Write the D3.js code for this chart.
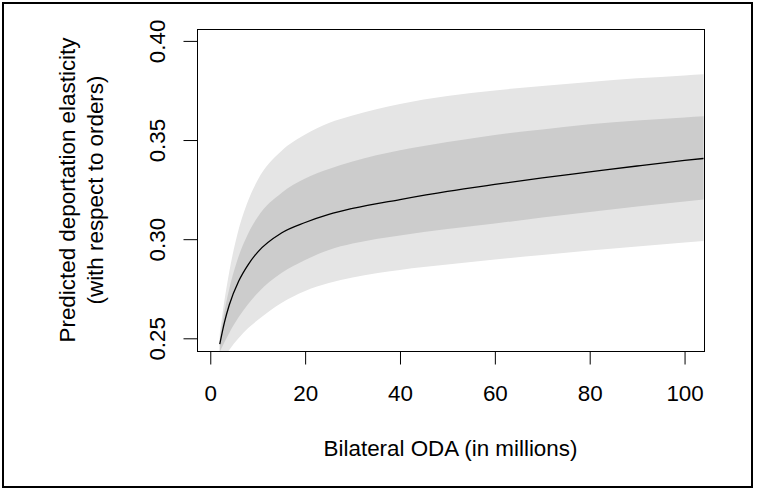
<!DOCTYPE html>
<head>
    <meta charset="utf-8">
    <title>Deportation elasticity</title>
    <script type="text/javascript" src="https://d3js.org/d3.v7.min.js"></script>
    <style>
        body { margin: 0; background: #fff; }
        text { font-family: "Liberation Sans", Arial, sans-serif; fill: #000; }
    </style>
</head>
<body>
<div id="container"></div>
<script>
    //-----------------------------DATA------------------------------//
    const oda = [2, 3, 4, 6, 8, 10, 15, 20, 25, 30, 40, 50, 60, 70, 80, 90, 100, 104];
    const fit = [0.2471, 0.2582, 0.2668, 0.2789, 0.2872, 0.2935, 0.3031, 0.3084, 0.3125, 0.3155,
                 0.3200, 0.3241, 0.3276, 0.3309, 0.3339, 0.3369, 0.3397, 0.3407];
    const innerLo = [0.2431, 0.2481, 0.2527, 0.2607, 0.2673, 0.2729, 0.2829, 0.2895, 0.2946, 0.2978,
                     0.3019, 0.3051, 0.3079, 0.3109, 0.3137, 0.3165, 0.3190, 0.3200];
    const innerHi = [0.2496, 0.2638, 0.2749, 0.2915, 0.3029, 0.3112, 0.3233, 0.3306, 0.3354, 0.3392,
                     0.3448, 0.3490, 0.3526, 0.3553, 0.3579, 0.3599, 0.3614, 0.3620];
    const outerLo = [0.2350, 0.2401, 0.2441, 0.2502, 0.2552, 0.2592, 0.2678, 0.2739, 0.2779, 0.2807,
                     0.2845, 0.2872, 0.2898, 0.2920, 0.2943, 0.2963, 0.2983, 0.2991];
    const outerHi = [0.2522, 0.2693, 0.2835, 0.3051, 0.3195, 0.3299, 0.3445, 0.3528, 0.3586, 0.3624,
                     0.3682, 0.3722, 0.3750, 0.3773, 0.3793, 0.3811, 0.3826, 0.3832];
    const xTicks = [0, 20, 40, 60, 80, 100];
    const yTicks = [0.25, 0.30, 0.35, 0.40];

    //-----------------------------SVG-------------------------------//
    const width = 760;
    const height = 489;
    const plot = {left: 197, right: 704, top: 29, bottom: 351};

    const svg = d3.select("div#container").append("svg")
        .attr("width", width)
        .attr("height", height);

    // figure frame
    svg.append("rect")
        .attr("x", 3).attr("y", 3)
        .attr("width", 749).attr("height", 484)
        .attr("fill", "none")
        .attr("stroke", "#000")
        .attr("stroke-width", 2);

    //----------------------------SCALES-----------------------------//
    const xScale = d3.scaleLinear().domain([-2.8, 104.1]).range([plot.left, plot.right]);
    const yScale = d3.scaleLinear().domain([0.2436, 0.406]).range([plot.bottom, plot.top]);

    const rows = oda.map(function(x, i) {
        return {x: x, fit: fit[i], ilo: innerLo[i], ihi: innerHi[i], olo: outerLo[i], ohi: outerHi[i]};
    });

    svg.append("clipPath").attr("id", "clip")
        .append("rect")
        .attr("x", plot.left).attr("y", plot.top)
        .attr("width", plot.right - plot.left + 1)
        .attr("height", plot.bottom - plot.top);

    const g = svg.append("g").attr("clip-path", "url(#clip)");

    const curve = d3.curveMonotoneX;

    const outerArea = d3.area()
        .curve(curve)
        .x(function(d) { return xScale(d.x); })
        .y0(function(d) { return yScale(d.olo); })
        .y1(function(d) { return yScale(d.ohi); });

    const innerArea = d3.area()
        .curve(curve)
        .x(function(d) { return xScale(d.x); })
        .y0(function(d) { return yScale(d.ilo); })
        .y1(function(d) { return yScale(d.ihi); });

    const line = d3.line()
        .curve(curve)
        .x(function(d) { return xScale(d.x); })
        .y(function(d) { return yScale(d.fit); });

    g.append("path").attr("d", outerArea(rows)).attr("fill", "#e5e5e5");
    g.append("path").attr("d", innerArea(rows)).attr("fill", "#cccccc");
    g.append("path").attr("d", line(rows))
        .attr("fill", "none")
        .attr("stroke", "#000")
        .attr("stroke-width", 1.3);

    // plot box
    svg.append("rect")
        .attr("x", plot.left + 0.5).attr("y", plot.top + 0.5)
        .attr("width", plot.right - plot.left).attr("height", plot.bottom - plot.top)
        .attr("fill", "none")
        .attr("stroke", "#000")
        .attr("stroke-width", 1);

    //-----------------------------AXES------------------------------//
    const xaxis = d3.axisBottom(xScale)
        .tickValues(xTicks)
        .tickSize(13)
        .tickPadding(21)
        .tickFormat(d3.format("d"));

    const xg = svg.append("g")
        .attr("transform", "translate(0," + (plot.bottom + 0.5) + ")")
        .call(xaxis);
    xg.select(".domain").attr("d", "M" + xScale(0) + ",0H" + xScale(100));
    xg.selectAll("text").style("font-size", "22.4px").attr("fill", "#000");

    const yaxis = d3.axisLeft(yScale)
        .tickValues(yTicks)
        .tickSize(14)
        .tickFormat(d3.format(".2f"));

    const yg = svg.append("g")
        .attr("transform", "translate(" + (plot.left + 0.5) + ",0)")
        .call(yaxis);
    yg.select(".domain").attr("d", "M0," + yScale(0.25) + "V" + yScale(0.40));
    yg.selectAll(".tick text")
        .attr("x", null).attr("dy", null)
        .attr("transform", "translate(-33,0) rotate(-90)")
        .attr("text-anchor", "middle")
        .attr("fill", "#000")
        .style("font-size", "22.4px");

    svg.selectAll(".domain, .tick line").attr("stroke", "#000");
    svg.selectAll(".tick text").attr("font-family", null);

    //-----------------------------LABELS----------------------------//
    svg.append("text")
        .attr("x", (plot.left + plot.right) / 2)
        .attr("y", 456)
        .attr("text-anchor", "middle")
        .style("font-size", "22.4px")
        .text("Bilateral ODA (in millions)");

    const ylab = svg.append("text")
        .attr("transform", "translate(0," + ((plot.top + plot.bottom) / 2) + ") rotate(-90)")
        .attr("text-anchor", "middle")
        .style("font-size", "22.4px");
    ylab.append("tspan").attr("x", 0).attr("y", 75).text("Predicted deportation elasticity");
    ylab.append("tspan").attr("x", 0).attr("y", 103).text("(with respect to orders)");
</script>
</body>
